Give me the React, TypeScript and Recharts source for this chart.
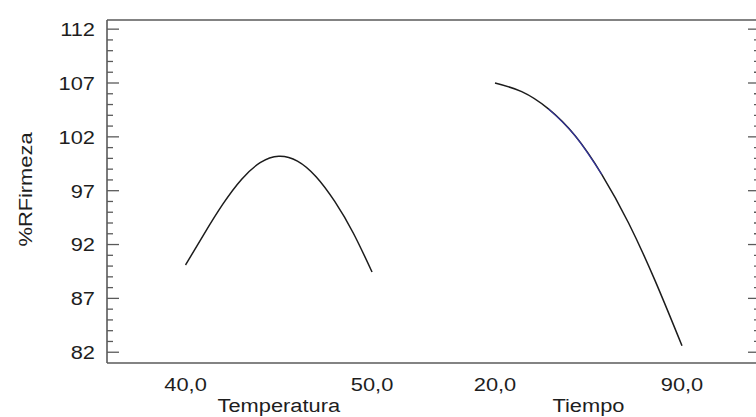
import React from 'react';
import { LineChart, Line, XAxis, YAxis } from 'recharts';

// ---- data ----
const temperatura = [40, 41, 42, 43, 44, 45, 46, 47, 48, 49, 50];
const rfTemperatura = [90.1, 93.0, 95.75, 98.05, 99.6, 100.2, 99.75, 98.3, 96.0, 93.05, 89.45];

const tiempo = [20, 30, 40, 50, 60, 70, 80, 90];
const rfTiempo = [107.0, 106.2, 104.6, 102.1, 98.5, 94.0, 88.6, 82.6];

// portion of the Tiempo curve that shows a blue tint in the reference
const tiempoAzul = [40, 50, 60];

const yTicks = [82, 83, 84, 85, 86, 87, 88, 89, 90, 91, 92, 93, 94, 95, 96, 97, 98, 99, 100, 101, 102, 103, 104, 105, 106, 107, 108, 109, 110, 111, 112];
const yMajor = [82, 87, 92, 97, 102, 107, 112];

const tempTicks = [40, 45, 50];
const tiempoTicks = [20, 55, 90];

const tempData = temperatura.map((x, i) => ({ x, y: rfTemperatura[i] }));
const tiempoData = tiempo.map((x, i) => ({ x, y: rfTiempo[i] }));
const tiempoAzulData = tiempoData.filter((d) => tiempoAzul.includes(d.x));

const FONT = '"Liberation Sans", Arial, sans-serif';
const TXT = '#1e1e1e';
const FRAME = '#5a5a5a';
const FS = 19;
const SX = 1.15;

const fmt = (v: number) => v.toFixed(1).replace('.', ',');

const leftTick = (props: any) => {
  const { x, y, payload } = props;
  const v = payload.value;
  const major = yMajor.includes(v);
  return (
    <g>
      <line x1={x} x2={x + (major ? 12 : 6)} y1={y} y2={y} stroke={FRAME} strokeWidth={1.3} />
      {major && (
        <text
          transform={`translate(${x - 12},${y}) scale(${SX},1)`}
          textAnchor="end"
          dy="0.36em"
          fontSize={FS}
          fontFamily={FONT}
          fill={TXT}
        >
          {v}
        </text>
      )}
    </g>
  );
};

const rightTick = (props: any) => {
  const { x, y, payload } = props;
  const v = payload.value;
  const major = yMajor.includes(v);
  return <line x1={x} x2={x - (major ? 12 : 6)} y1={y} y2={y} stroke={FRAME} strokeWidth={1.3} />;
};

const makeXTick = (title: string, mid: number) => (props: any) => {
  const { x, payload } = props;
  const v = payload.value;
  const base = 363;
  if (v === mid) {
    return (
      <text
        transform={`translate(${x},${base + 49}) scale(${SX},1)`}
        textAnchor="middle"
        fontSize={FS}
        fontFamily={FONT}
        fill={TXT}
      >
        {title}
      </text>
    );
  }
  return (
    <text
      transform={`translate(${x},${base + 28}) scale(${SX},1)`}
      textAnchor="middle"
      fontSize={FS}
      fontFamily={FONT}
      fill={TXT}
    >
      {fmt(v)}
    </text>
  );
};

const tempTick = makeXTick('Temperatura', 45);
const tiempoTick = makeXTick('Tiempo', 55);

const yLabel = (props: any) => {
  const vb = props.viewBox || { x: 106, y: 20, width: 1, height: 343 };
  const cx = 25;
  const cy = vb.y + vb.height / 2 - 2;
  return (
    <text
      transform={`translate(${cx},${cy}) rotate(-90) scale(${SX},1)`}
      textAnchor="middle"
      dy="0.36em"
      fontSize={FS}
      fontFamily={FONT}
      fill={TXT}
    >
      %RFirmeza
    </text>
  );
};

export default function App() {
  return (
    <div
      style={{
        position: 'fixed',
        left: 0,
        top: 0,
        width: 756,
        height: 417,
        overflow: 'hidden',
        background: '#fff',
      }}
    >
      <LineChart width={772} height={417} margin={{ top: 19, right: 11, bottom: 52, left: 106 }}>
        <XAxis
          xAxisId="temp"
          type="number"
          dataKey="x"
          domain={[35.79, 70.8]}
          allowDataOverflow
          ticks={tempTicks}
          interval={0}
          height={1}
          tickSize={0}
          tickMargin={0}
          tickLine={false}
          axisLine={{ stroke: FRAME, strokeWidth: 1.6 }}
          tick={tempTick}
        />
        <XAxis
          xAxisId="tiempo"
          type="number"
          dataKey="x"
          domain={[-125.24, 119.2]}
          allowDataOverflow
          ticks={tiempoTicks}
          interval={0}
          height={1}
          tickSize={0}
          tickMargin={0}
          tickLine={false}
          axisLine={false}
          tick={tiempoTick}
        />
        <XAxis
          xAxisId="top"
          orientation="top"
          type="number"
          domain={[0, 1]}
          height={1}
          tick={false}
          tickLine={false}
          axisLine={{ stroke: FRAME, strokeWidth: 1.6 }}
        />
        <YAxis
          yAxisId="left"
          type="number"
          domain={[81, 112.85]}
          allowDataOverflow
          ticks={yTicks}
          interval={0}
          width={1}
          tickSize={0}
          tickMargin={0}
          tickLine={false}
          axisLine={{ stroke: FRAME, strokeWidth: 1.6 }}
          tick={leftTick}
          label={{ content: yLabel }}
        />
        <YAxis
          yAxisId="right"
          orientation="right"
          type="number"
          domain={[81, 112.85]}
          allowDataOverflow
          ticks={yTicks}
          interval={0}
          width={1}
          tickSize={0}
          tickMargin={0}
          tickLine={false}
          axisLine={{ stroke: FRAME, strokeWidth: 1.6 }}
          tick={rightTick}
        />
        <Line
          xAxisId="temp"
          yAxisId="left"
          data={tempData}
          dataKey="y"
          type="natural"
          stroke="#1c1c1c"
          strokeWidth={1.5}
          dot={false}
          isAnimationActive={false}
        />
        <Line
          xAxisId="tiempo"
          yAxisId="left"
          data={tiempoData}
          dataKey="y"
          type="natural"
          stroke="#1c1c1c"
          strokeWidth={1.5}
          dot={false}
          isAnimationActive={false}
        />
        <Line
          xAxisId="tiempo"
          yAxisId="left"
          data={tiempoAzulData}
          dataKey="y"
          type="natural"
          stroke="#3a3ac8"
          strokeOpacity={0.75}
          strokeWidth={1.2}
          dot={false}
          isAnimationActive={false}
        />
      </LineChart>
    </div>
  );
}
